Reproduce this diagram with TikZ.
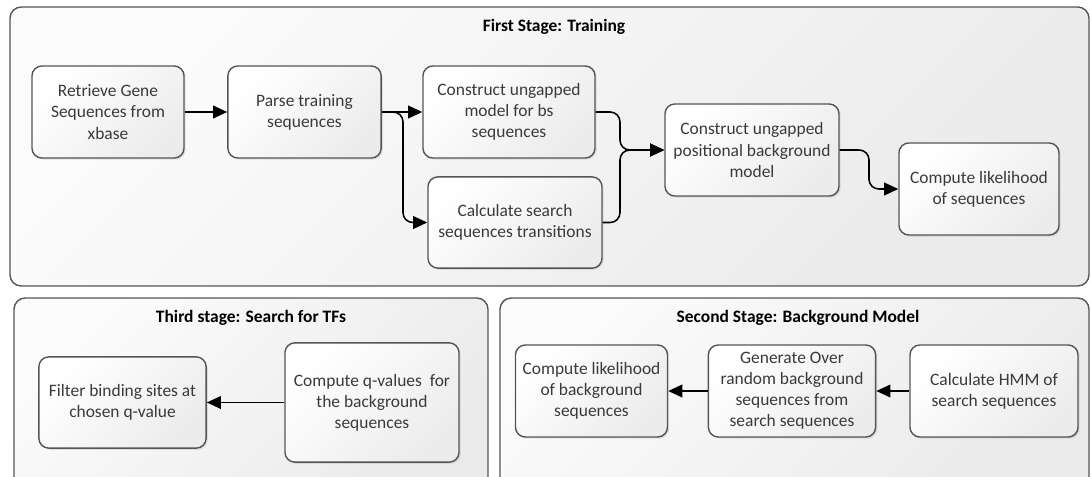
\documentclass[tikz,border=0pt]{standalone}
\usepackage{fontspec}
\setmainfont{Carlito}
\usetikzlibrary{arrows.meta,shadows}

\definecolor{edgegray}{HTML}{555555}
\definecolor{textgray}{HTML}{3A3A3A}

\tikzset{
  stage/.style={draw=edgegray, line width=1pt, rounded corners=8pt,
    top color=gray!3, bottom color=gray!16, shading angle=45},
  stagetitle/.style={font=\bfseries\fontsize{12.4}{15}\selectfont, text=black},
  stepbox/.style={draw=edgegray, line width=1pt, rounded corners=7pt,
    top color=white, bottom color=gray!15, shading angle=45,
    drop shadow={opacity=0.2, shadow xshift=1.2pt, shadow yshift=-1.2pt},
    align=center, inner sep=2pt, text=textgray,
    font=\fontsize{12.4}{15}\selectfont,
    minimum width=#1, minimum height=2.3cm},
  stepbox/.default=4cm,
  flow/.style={draw=black, line width=1.1pt, rounded corners=7pt,
    -{Triangle[length=10pt,width=9pt]}},
}

\begin{document}
\begin{tikzpicture}[x=0.025cm, y=-0.025cm]
    % 画布
    \clip (0,0) rectangle (1091,476);

    % === 三个阶段的外框 ===
    \draw[stage] (10,7) rectangle (1089,286);
    \draw[stage] (14,298) rectangle (488,490);
    \draw[stage] (500,298) rectangle (1089,490);

    \node[stagetitle] (t1) at (554,27) {First Stage: Training};
    \node[stagetitle] (t3) at (251,318) {Third stage: Search for TFs};
    \node[stagetitle] (t2) at (798,318) {Second Stage: Background Model};

    % === 第一阶段 ===
    \node[stepbox=3.8cm] (retrieve) at (108,112) {Retrieve Gene\\Sequences from\\xbase};
    \node[stepbox=3.83cm] (parse) at (304.5,112) {Parse training\\sequences};
    \node[stepbox=4.3cm] (bsmodel) at (509,112) {Construct ungapped\\model for bs\\sequences};
    \node[stepbox=4.35cm, minimum height=2.28cm] (trans) at (515,222.5) {Calculate search\\sequences transitions};
    \node[stepbox=4.35cm] (posmodel) at (752,150) {Construct ungapped\\positional background\\model};
    \node[stepbox=4cm] (likeli) at (979,189) {Compute likelihood\\of sequences};

    % 分叉、汇合与转弯点
    \coordinate (split) at (403,112);
    \coordinate (join) at (620,150);
    \coordinate (bend) at (869,170);

    \draw[flow] (retrieve) -- (parse);
    \draw[flow] (parse.east) -- (bsmodel.west);
    \draw[flow] (parse.east) -- (split) |- (trans.west);
    \draw[flow] (bsmodel.east) -| (join) -- (posmodel.west);
    \draw[flow] (trans.east) -| (join) -- (posmodel.west);
    \draw[flow] (posmodel.east) -| (bend) |- (likeli.west);

    % === 第三阶段 ===
    \node[stepbox=4.18cm, minimum height=2.28cm] (filter) at (122.5,402.5) {Filter binding sites at\\chosen q-value};
    \node[stepbox=4.35cm, minimum height=2.98cm] (qvals) at (372,402.5) {Compute q-values~ for\\the background\\sequences};
    \draw[flow] (qvals) -- (filter);

    % === 第二阶段 ===
    \node[stepbox=3.8cm] (bglik) at (591.5,391) {Compute likelihood\\of background\\sequences};
    \node[stepbox=4.18cm] (gen) at (792,391) {Generate Over\\random background\\sequences from\\search sequences};
    \node[stepbox=4.2cm] (hmm) at (994,391) {Calculate HMM of\\search sequences};
    \draw[flow] (hmm) -- (gen);
    \draw[flow] (gen) -- (bglik);
\end{tikzpicture}
\end{document}
